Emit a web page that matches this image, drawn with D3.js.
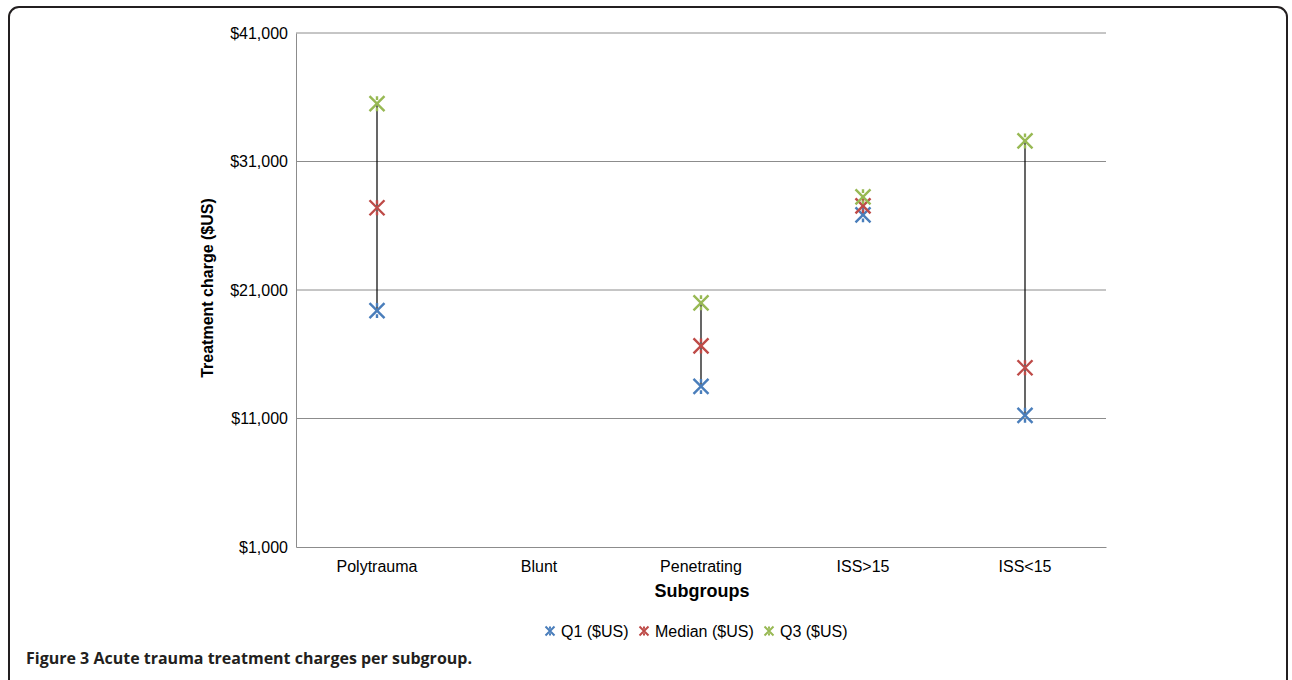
<!DOCTYPE html>
<html>
<head>
<meta charset="utf-8">
<script src="https://cdn.jsdelivr.net/npm/d3@7"></script>
<style>
  body { margin: 0; background: #fff; }
  svg { display: block; font-family: "Liberation Sans", Arial, sans-serif; }
</style>
</head>
<body>
<div class="chartContainer"></div>
<script>
const categories = ["Polytrauma", "Blunt", "Penetrating", "ISS>15", "ISS<15"];
const q1 = [19400, null, 13500, 26850, 11250];
const median = [27400, null, 16650, 27550, 14950];
const q3 = [35500, null, 20000, 28250, 32600];
const yTicks = [1000, 11000, 21000, 31000, 41000];
const seriesNames = ["Q1 ($US)", "Median ($US)", "Q3 ($US)"];
const colors = ["#4a7ebb", "#be4b48", "#98b954"];

const width = 1292,
  height = 680;
const plot = { left: 296, right: 1106, top: 33, bottom: 547 };
const font = "Liberation Sans, Arial, sans-serif";

const svg = d3
  .select(".chartContainer")
  .append("svg")
  .attr("width", width)
  .attr("height", height);

// figure frame
svg
  .append("rect")
  .attr("x", 9)
  .attr("y", 7)
  .attr("width", 1278)
  .attr("height", 720)
  .attr("rx", 10)
  .attr("fill", "none")
  .attr("stroke", "#231f20")
  .attr("stroke-width", 2);

const xScale = d3
  .scaleBand()
  .domain(categories)
  .range([plot.left, plot.right]);

const yScale = d3
  .scaleLinear()
  .domain([1000, 41000])
  .range([plot.bottom, plot.top]);

// gridlines
svg
  .append("g")
  .selectAll("line")
  .data(yTicks.slice(1))
  .enter()
  .append("line")
  .attr("x1", plot.left)
  .attr("x2", plot.right)
  .attr("y1", (d) => yScale(d))
  .attr("y2", (d) => yScale(d))
  .attr("stroke", "#8c8c8c")
  .attr("stroke-width", 1);

// y axis
const yAxis = d3
  .axisLeft(yScale)
  .tickValues(yTicks)
  .tickSize(0)
  .tickPadding(8)
  .tickFormat((d) => "$" + d3.format(",")(d));

svg
  .append("g")
  .attr("transform", `translate(${plot.left},0)`)
  .call(yAxis)
  .attr("font-family", font)
  .attr("font-size", 16)
  .call((g) => g.select(".domain").attr("stroke", "#8c8c8c"))
  .call((g) => g.selectAll("text").attr("fill", "#000"));

// x axis
const xAxis = d3.axisBottom(xScale).tickSize(0).tickPadding(14);

svg
  .append("g")
  .attr("transform", `translate(0,${plot.bottom})`)
  .call(xAxis)
  .attr("font-family", font)
  .attr("font-size", 16)
  .call((g) => g.select(".domain").attr("stroke", "#8c8c8c"))
  .call((g) => g.selectAll("text").attr("fill", "#000"));

// axis titles
svg
  .append("text")
  .attr("transform", `translate(213,288) rotate(-90)`)
  .attr("text-anchor", "middle")
  .attr("font-size", 16)
  .attr("font-weight", "bold")
  .text("Treatment charge ($US)");

svg
  .append("text")
  .attr("x", 702)
  .attr("y", 597)
  .attr("text-anchor", "middle")
  .attr("font-size", 18)
  .attr("font-weight", "bold")
  .text("Subgroups");

// high-low lines
const cx = (c) => xScale(c) + xScale.bandwidth() / 2;
svg
  .append("g")
  .selectAll("line")
  .data(categories.filter((c, i) => q1[i] !== null))
  .enter()
  .append("line")
  .attr("x1", cx)
  .attr("x2", cx)
  .attr("y1", (c) => yScale(q1[categories.indexOf(c)]))
  .attr("y2", (c) => yScale(q3[categories.indexOf(c)]))
  .attr("stroke", "#000")
  .attr("stroke-width", 1.2);

// star markers
function star(sel, size, sw) {
  const s = size / 2;
  sel
    .append("path")
    .attr(
      "d",
      `M${-s},${-s}L${s},${s}M${-s},${s}L${s},${-s}M0,${-s}L0,${-s * 0.5}M0,${s}L0,${s * 0.5}`
    )
    .attr("fill", "none")
    .attr("stroke-width", sw)
    .attr("stroke-linecap", "butt");
}

[q1, median, q3].forEach((vals, k) => {
  const g = svg.append("g").attr("stroke", colors[k]);
  g.selectAll("g")
    .data(categories.filter((c, i) => vals[i] !== null))
    .enter()
    .append("g")
    .attr("transform", (c) => `translate(${cx(c)},${yScale(vals[categories.indexOf(c)])})`)
    .call(star, 15, 2.4);
});

// legend
const legendX = [550, 644, 769];
const legend = svg.append("g").attr("transform", "translate(0,631)");
seriesNames.forEach((name, k) => {
  legend
    .append("g")
    .attr("stroke", colors[k])
    .attr("transform", `translate(${legendX[k]},0)`)
    .call(star, 9, 2);
  legend
    .append("text")
    .attr("x", legendX[k] + 11)
    .attr("y", 6)
    .attr("font-size", 16)
    .text(name);
});

// caption
svg
  .append("text")
  .attr("x", 26)
  .attr("y", 664)
  .attr("font-family", "Open Sans, Noto Sans, sans-serif")
  .attr("font-size", 16)
  .attr("font-weight", "bold")
  .attr("fill", "#231f20")
  .text("Figure 3 Acute trauma treatment charges per subgroup.");
</script>
</body>
</html>
